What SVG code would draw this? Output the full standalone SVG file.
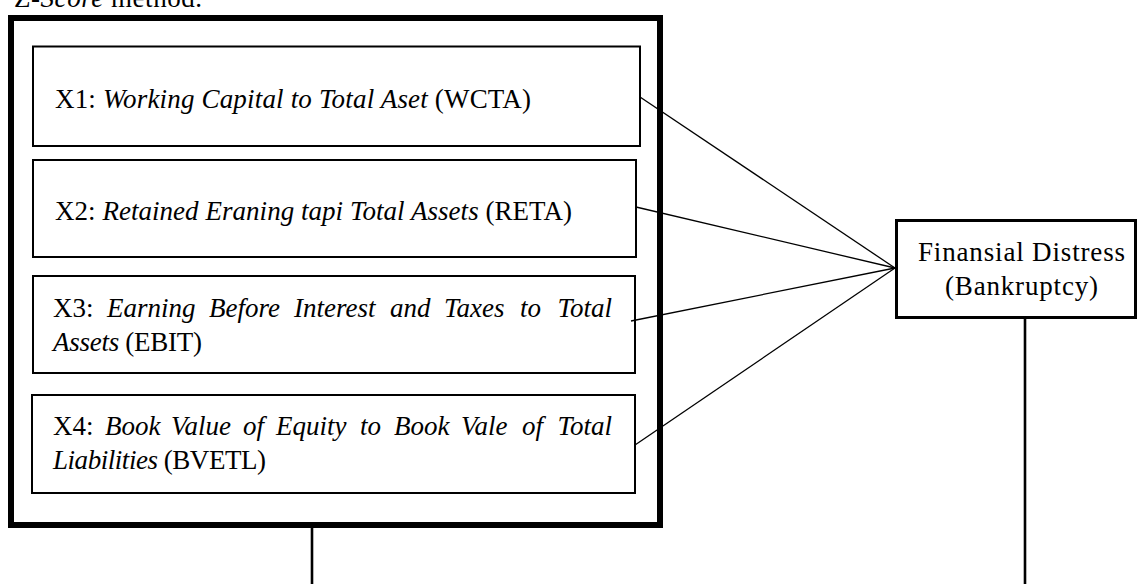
<svg xmlns="http://www.w3.org/2000/svg" width="1137" height="584" viewBox="0 0 1137 584">
<style>
text{font-family:"Liberation Serif","Times New Roman",serif;font-size:27px;fill:#000}
.i{font-style:italic}
.box{fill:#fff;stroke:#000;stroke-width:2}
.outer{fill:none;stroke:#000;stroke-width:6}
.conn{stroke:#000;stroke-width:1.3;fill:none}
.vert{stroke:#000;stroke-width:2.6;fill:none}
</style>
<rect width="1137" height="584" fill="#fff"/>
<text x="14" y="7" textLength="188">Z-<tspan class="i">Score</tspan> method.</text>
<g id="outer"><rect class="outer" x="11" y="18" width="649" height="507"/></g>
<g id="x1">
<rect class="box" x="33" y="46.5" width="607" height="99.5"/>
<text x="55" y="108" textLength="476">X1: <tspan class="i">Working Capital to Total Aset</tspan> (WCTA)</text>
</g>
<g id="x2">
<rect class="box" x="33" y="160" width="603" height="97"/>
<text x="55" y="220" textLength="517">X2: <tspan class="i">Retained Eraning tapi Total Assets</tspan> (RETA)</text>
</g>
<g id="x3">
<rect class="box" x="33" y="276" width="602" height="97"/>
<text y="317"><tspan x="53">X3:</tspan><tspan class="i" x="107">Earning</tspan><tspan class="i" x="209">Before</tspan><tspan class="i" x="294">Interest</tspan><tspan class="i" x="390">and</tspan><tspan class="i" x="444">Taxes</tspan><tspan class="i" x="520">to</tspan></text>
<text class="i" x="612" y="317" text-anchor="end">Total</text>
<text x="53" y="351" textLength="149"><tspan class="i">Assets</tspan> (EBIT)</text>
</g>
<g id="x4">
<rect class="box" x="32" y="395" width="603" height="98"/>
<text y="435"><tspan x="53">X4:</tspan><tspan class="i" x="105">Book</tspan><tspan class="i" x="171">Value</tspan><tspan class="i" x="243">of</tspan><tspan class="i" x="276">Equity</tspan><tspan class="i" x="360">to</tspan><tspan class="i" x="394">Book</tspan><tspan class="i" x="461">Vale</tspan><tspan class="i" x="522">of</tspan></text>
<text class="i" x="612" y="435" text-anchor="end">Total</text>
<text x="53" y="469" textLength="213"><tspan class="i">Liabilities</tspan> (BVETL)</text>
</g>
<g id="fd">
<rect x="896.5" y="220.5" width="239" height="97" fill="#fff" stroke="#000" stroke-width="3"/>
<text x="1021.5" y="261" text-anchor="middle" textLength="207">Finansial Distress</text>
<text x="1021.5" y="295" text-anchor="middle" textLength="153">(Bankruptcy)</text>
</g>
<g id="connectors">
<line class="conn" x1="640" y1="97" x2="895" y2="268"/>
<line class="conn" x1="636" y1="207" x2="895" y2="268"/>
<line class="conn" x1="631" y1="321" x2="895" y2="268"/>
<line class="conn" x1="635" y1="445" x2="895" y2="268"/>
<line class="vert" x1="312" y1="528" x2="312" y2="584"/>
<line class="vert" x1="1025" y1="319" x2="1025" y2="584"/>
</g>
</svg>
